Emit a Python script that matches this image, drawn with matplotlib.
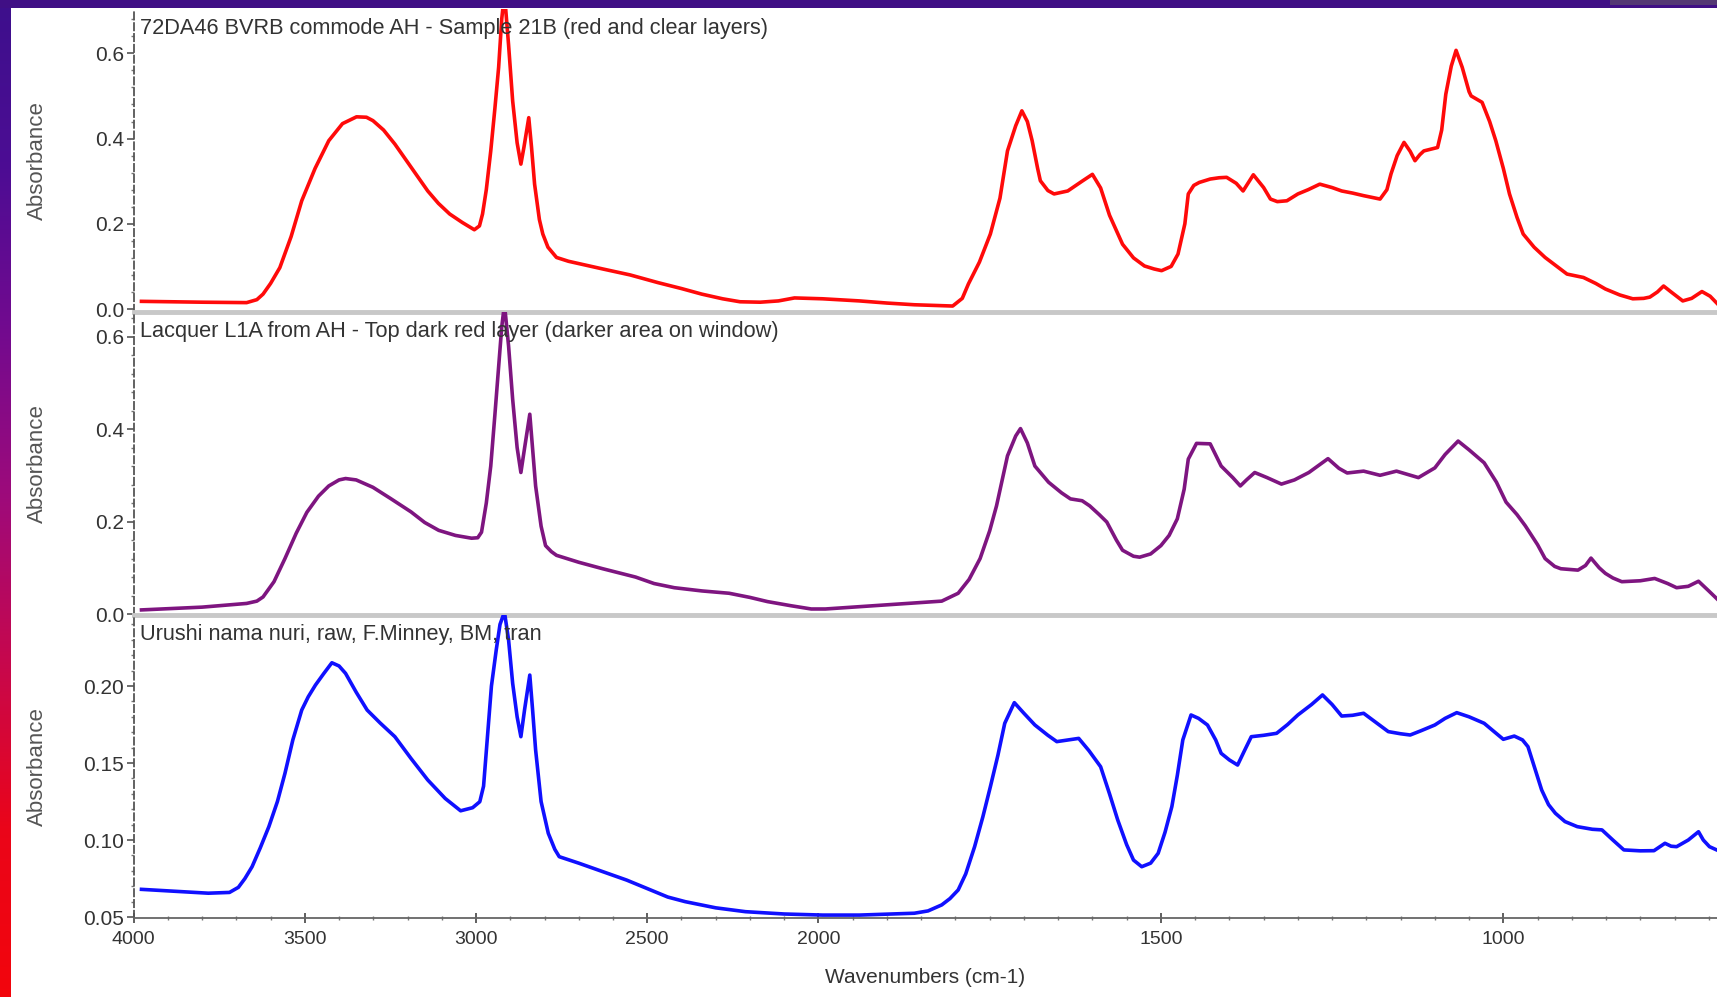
import numpy as np
import matplotlib
matplotlib.use("Agg")
import matplotlib.pyplot as plt
from matplotlib.ticker import FixedLocator, FormatStrFormatter, MultipleLocator

plt.rcParams['font.family'] = ['Liberation Sans', 'DejaVu Sans']

# ---------------- data ----------------
titles = [
    "72DA46 BVRB commode AH - Sample 21B (red and clear layers)",
    "Lacquer L1A from AH - Top dark red layer (darker area on window)",
    "Urushi nama nuri, raw, F.Minney, BM, tran",
]

wn_red = [3977, 3800, 3670, 3640, 3622, 3600, 3573, 3540, 3509, 3470, 3430, 3390, 3349, 3320,
          3301, 3270, 3237, 3190, 3141, 3110, 3077, 3040, 3005, 2990, 2981, 2970, 2957, 2945,
          2934, 2925, 2917, 2905, 2893, 2880, 2869, 2860, 2846, 2838, 2829, 2815, 2805, 2790,
          2765, 2730, 2680, 2630, 2550, 2469, 2400, 2341, 2280, 2229, 2170, 2117, 2070, 2030,
          1994, 1940, 1900, 1860, 1804, 1790, 1781, 1765, 1749, 1735, 1724, 1712, 1703, 1695,
          1688, 1680, 1676, 1665, 1656, 1636, 1615, 1600, 1588, 1575, 1556, 1540, 1524, 1510,
          1499, 1485, 1475, 1465, 1460, 1452, 1444, 1428, 1415, 1404, 1390, 1380, 1365, 1350,
          1340, 1330, 1316, 1300, 1285, 1268, 1250, 1236, 1220, 1204, 1180, 1170, 1164, 1155,
          1145, 1136, 1129, 1122, 1116, 1096, 1090, 1084, 1076, 1069, 1060, 1050, 1047, 1031,
          1020, 1011, 1000, 991, 980, 971, 955, 939, 920, 907, 895, 883, 865, 851, 830, 811,
          795, 786, 775, 766, 755, 738, 725, 710, 698, 686]
abs_red = [0.018, 0.016, 0.015, 0.022, 0.035, 0.060, 0.097, 0.170, 0.254, 0.330, 0.395, 0.435, 0.451, 0.450,
           0.442, 0.420, 0.387, 0.333, 0.277, 0.248, 0.223, 0.203, 0.186, 0.195, 0.223, 0.280, 0.371, 0.470,
           0.567, 0.680, 0.740, 0.620, 0.488, 0.390, 0.340, 0.380, 0.449, 0.380, 0.293, 0.210, 0.176, 0.145,
           0.121, 0.112, 0.103, 0.094, 0.080, 0.062, 0.048, 0.035, 0.024, 0.017, 0.016, 0.019, 0.026, 0.025,
           0.024, 0.019, 0.014, 0.010, 0.007, 0.025, 0.059, 0.110, 0.176, 0.260, 0.371, 0.430, 0.465, 0.440,
           0.395, 0.330, 0.301, 0.278, 0.270, 0.277, 0.300, 0.316, 0.284, 0.220, 0.152, 0.120, 0.101, 0.094,
           0.090, 0.100, 0.129, 0.200, 0.270, 0.290, 0.297, 0.305, 0.308, 0.309, 0.295, 0.277, 0.315, 0.285,
           0.258, 0.252, 0.254, 0.270, 0.280, 0.293, 0.285, 0.277, 0.272, 0.266, 0.258, 0.280, 0.317, 0.360,
           0.391, 0.370, 0.348, 0.362, 0.371, 0.379, 0.420, 0.504, 0.570, 0.607, 0.567, 0.510, 0.500, 0.485,
           0.440, 0.395, 0.330, 0.270, 0.215, 0.176, 0.145, 0.121, 0.098, 0.082, 0.078, 0.074, 0.060, 0.047,
           0.033, 0.024, 0.025, 0.028, 0.040, 0.054, 0.040, 0.019, 0.025, 0.041, 0.030, 0.010]

wn_purple = [3977, 3800, 3670, 3640, 3622, 3590, 3558, 3525, 3494, 3460, 3430, 3400, 3381, 3350,
             3301, 3250, 3190, 3150, 3109, 3060, 3013, 2995, 2984, 2970, 2957, 2945, 2934, 2925,
             2917, 2905, 2893, 2880, 2869, 2858, 2843, 2835, 2826, 2810, 2797, 2780, 2765, 2700,
             2630, 2534, 2480, 2421, 2340, 2261, 2200, 2149, 2080, 2021, 1990, 1940, 1880, 1820,
             1796, 1780, 1764, 1750, 1740, 1724, 1712, 1705, 1695, 1684, 1664, 1645, 1632, 1615,
             1604, 1590, 1579, 1565, 1556, 1540, 1531, 1515, 1500, 1488, 1476, 1466, 1460, 1448,
             1428, 1412, 1395, 1384, 1375, 1363, 1345, 1324, 1305, 1284, 1256, 1240, 1228, 1204,
             1180, 1156, 1140, 1124, 1100, 1085, 1066, 1050, 1028, 1010, 996, 980, 968, 950, 939,
             925, 916, 891, 880, 872, 860, 851, 840, 827, 800, 779, 760, 747, 730, 715, 700, 686]
abs_purple = [0.009, 0.015, 0.023, 0.028, 0.037, 0.070, 0.120, 0.175, 0.220, 0.255, 0.277, 0.290, 0.293, 0.290,
              0.274, 0.250, 0.221, 0.198, 0.181, 0.170, 0.164, 0.165, 0.177, 0.240, 0.320, 0.430, 0.536, 0.620,
              0.670, 0.580, 0.464, 0.360, 0.306, 0.360, 0.432, 0.360, 0.277, 0.190, 0.148, 0.135, 0.127, 0.112,
              0.098, 0.080, 0.066, 0.057, 0.050, 0.045, 0.036, 0.027, 0.018, 0.011, 0.011, 0.016, 0.022, 0.028,
              0.045, 0.075, 0.120, 0.180, 0.234, 0.342, 0.385, 0.401, 0.370, 0.320, 0.285, 0.262, 0.249, 0.245,
              0.234, 0.215, 0.199, 0.160, 0.138, 0.125, 0.123, 0.130, 0.148, 0.170, 0.206, 0.270, 0.335, 0.369,
              0.368, 0.320, 0.295, 0.277, 0.290, 0.306, 0.295, 0.281, 0.290, 0.306, 0.336, 0.315, 0.305, 0.309,
              0.300, 0.309, 0.302, 0.295, 0.316, 0.345, 0.374, 0.355, 0.327, 0.285, 0.242, 0.215, 0.191, 0.150, 0.120,
              0.103, 0.098, 0.095, 0.105, 0.121, 0.100, 0.088, 0.078, 0.070, 0.072, 0.077, 0.066, 0.057, 0.060, 0.071, 0.050, 0.030]

wn_blue = [3977, 3900, 3782, 3720, 3694, 3675, 3654, 3630, 3605, 3580, 3558, 3535, 3509, 3490,
           3469, 3445, 3421, 3400, 3381, 3350, 3318, 3280, 3237, 3190, 3141, 3090, 3045, 3010,
           2989, 2978, 2966, 2955, 2941, 2930, 2917, 2905, 2893, 2880, 2869, 2858, 2843, 2835,
           2826, 2810, 2789, 2770, 2757, 2700, 2630, 2560, 2502, 2440, 2389, 2300, 2213, 2100,
           1994, 1940, 1860, 1840, 1820, 1808, 1796, 1785, 1772, 1760, 1749, 1738, 1728, 1714,
           1700, 1684, 1665, 1652, 1635, 1620, 1605, 1588, 1575, 1563, 1550, 1540, 1528, 1515,
           1504, 1494, 1484, 1476, 1468, 1456, 1445, 1432, 1420, 1412, 1400, 1388, 1378, 1368,
           1350, 1331, 1315, 1300, 1280, 1264, 1250, 1236, 1220, 1204, 1185, 1168, 1150, 1136,
           1120, 1100, 1085, 1068, 1050, 1028, 1015, 1000, 984, 972, 964, 955, 944, 934, 924,
           910, 892, 870, 856, 840, 824, 800, 780, 764, 755, 747, 730, 715, 708, 699, 686]
abs_blue = [0.068, 0.067, 0.0655, 0.066, 0.0693, 0.075, 0.0827, 0.095, 0.1087, 0.125, 0.1433, 0.165, 0.1844, 0.193,
            0.2006, 0.208, 0.2151, 0.213, 0.2082, 0.196, 0.1844, 0.176, 0.1671, 0.153, 0.139, 0.127, 0.119, 0.121,
            0.1249, 0.135, 0.1693, 0.200, 0.2234, 0.240, 0.248, 0.230, 0.2017, 0.180, 0.1671, 0.185, 0.2071, 0.185,
            0.1585, 0.125, 0.1044, 0.094, 0.0892, 0.085, 0.0795, 0.074, 0.0687, 0.063, 0.060, 0.056, 0.0535, 0.052,
            0.0513, 0.0513, 0.0525, 0.054, 0.0579, 0.062, 0.0676, 0.078, 0.0957, 0.115, 0.1346, 0.155, 0.1758, 0.1892,
            0.1823, 0.1747, 0.168, 0.1639, 0.165, 0.166, 0.158, 0.1476, 0.130, 0.113, 0.097, 0.087, 0.0827, 0.085,
            0.0914, 0.105, 0.1217, 0.142, 0.165, 0.1812, 0.179, 0.1747, 0.165, 0.1563, 0.152, 0.1487, 0.158, 0.1671,
            0.168, 0.1693, 0.175, 0.1812, 0.188, 0.1942, 0.188, 0.1805, 0.181, 0.1823, 0.176, 0.1704, 0.169, 0.1682,
            0.171, 0.1747, 0.179, 0.1827, 0.180, 0.1758, 0.171, 0.1654, 0.1675, 0.165, 0.1606, 0.148, 0.1325, 0.123, 0.1174,
            0.112, 0.1087, 0.107, 0.1066, 0.100, 0.0936, 0.093, 0.0931, 0.0979, 0.096, 0.0957, 0.100, 0.1054, 0.100, 0.0957, 0.0931]

series = [(wn_red, abs_red, "#ff0a0a"),
          (wn_purple, abs_purple, "#7e1580"),
          (wn_blue, abs_blue, "#1010ff")]

yticks = [[0.0, 0.2, 0.4, 0.6], [0.0, 0.2, 0.4, 0.6], [0.05, 0.10, 0.15, 0.20]]
yfmt = ["%.1f", "%.1f", "%.2f"]
ylims = [(-0.007, 0.704), (-0.002, 0.653), (0.0494, 0.2461)]
xticks = [4000, 3500, 3000, 2500, 2000, 1500, 1000]


# ---------------- figure ----------------
W, H = 1717, 997
fig = plt.figure(figsize=(W / 100, H / 100), dpi=100)
fig.patch.set_facecolor("white")

# decorative gradient border (slide background)
bg = fig.add_axes([0, 0, 1, 1], zorder=-10)
bg.set_axis_off()
bg.set_xlim(0, W)
bg.set_ylim(H, 0)
left_cols = np.array([[0.24, 0.06, 0.55], [0.30, 0.05, 0.58], [0.45, 0.04, 0.56],
                      [0.62, 0.04, 0.48], [0.78, 0.03, 0.30], [0.92, 0.02, 0.10],
                      [0.95, 0.02, 0.05]])
grad = np.interp(np.linspace(0, 1, 200), np.linspace(0, 1, len(left_cols)), np.arange(len(left_cols)))
lo = np.floor(grad).astype(int)
hi = np.minimum(lo + 1, len(left_cols) - 1)
f = (grad - lo)[:, None]
img = left_cols[lo] * (1 - f) + left_cols[hi] * f
bg.imshow(img[:, None, :], extent=(0, 10, H, 0), aspect="auto", interpolation="bilinear")
bg.add_patch(plt.Rectangle((0, 0), W, 8, color=(0.25, 0.06, 0.52), lw=0))
bg.add_patch(plt.Rectangle((1610, 0), W - 1610, 5, color=(0.33, 0.22, 0.45), lw=0))


def fwd(x):
    x = np.asarray(x, dtype=float)
    return np.where(x > 2000, 2000 + (x - 2000) / 2.0, x)


def inv(y):
    y = np.asarray(y, dtype=float)
    return np.where(y > 2000, 2000 + (y - 2000) * 2.0, y)


left = 133.6 / W
width = 1 - left
tops = [9, 312, 615]
ph = 303
axes = []
for i in range(3):
    bottom = 1 - (tops[i] + ph) / H
    ax = fig.add_axes([left, bottom, width, ph / H])
    ax.set_facecolor("none")
    ax.set_xscale("function", functions=(fwd, inv))
    ax.set_xlim(4000, 688)
    ax.set_ylim(*ylims[i])
    wn, ab, col = series[i]
    ax.plot(wn, ab, color=col, lw=2.6, solid_joinstyle="round", zorder=3)

    ax.yaxis.set_major_locator(FixedLocator(yticks[i]))
    ax.yaxis.set_major_formatter(FormatStrFormatter(yfmt[i]))
    step = (yticks[i][1] - yticks[i][0]) / 5
    ax.yaxis.set_minor_locator(MultipleLocator(step))
    ax.tick_params(axis="y", which="major", direction="out", length=5, width=1.2,
                   color="#555555", labelsize=15, labelcolor="#333333", pad=2)
    ax.tick_params(axis="y", which="minor", direction="out", length=2.5, width=1,
                   color="#777777")
    ax.set_ylabel("Absorbance", fontsize=16, color="#555555")
    ax.yaxis.set_label_coords(-(133.6 - 48.4) / (W - 133.6), 0.5)

    for s in ["top", "right"]:
        ax.spines[s].set_visible(False)
    ax.spines["left"].set_color("#555555")
    ax.spines["left"].set_linewidth(1.3)
    ax.spines["left"].set_linestyle((0, (4, 2)))

    ax.annotate(titles[i], xy=(0, 1), xycoords="axes fraction",
                xytext=(4.5, -14), textcoords="offset points",
                ha="left", va="center", fontsize=15.7, color="#333333", zorder=5)

    if i < 2:
        ax.spines["bottom"].set_color("#c8c8c8")
        ax.spines["bottom"].set_linewidth(3.5)
        ax.tick_params(axis="x", which="both", bottom=False, labelbottom=False)
    else:
        ax.spines["bottom"].set_color("#666666")
        ax.spines["bottom"].set_linewidth(1.3)
        ax.xaxis.set_major_locator(FixedLocator(xticks))
        ax.xaxis.set_major_formatter(FormatStrFormatter("%d"))
        ax.xaxis.set_minor_locator(FixedLocator(list(range(4000, 2000, -100)) + list(range(2000, 650, -50))))
        ax.tick_params(axis="x", which="major", direction="inout", length=7, width=1.2,
                       color="#444444", labelsize=14, labelcolor="#333333", pad=6)
        ax.tick_params(axis="x", which="minor", direction="inout", length=3, width=1,
                       color="#777777")
        ax.set_xlabel("Wavenumbers (cm-1)", fontsize=15, color="#333333", labelpad=14)
    axes.append(ax)

fig.savefig("out.png", dpi=100, facecolor=fig.get_facecolor())
